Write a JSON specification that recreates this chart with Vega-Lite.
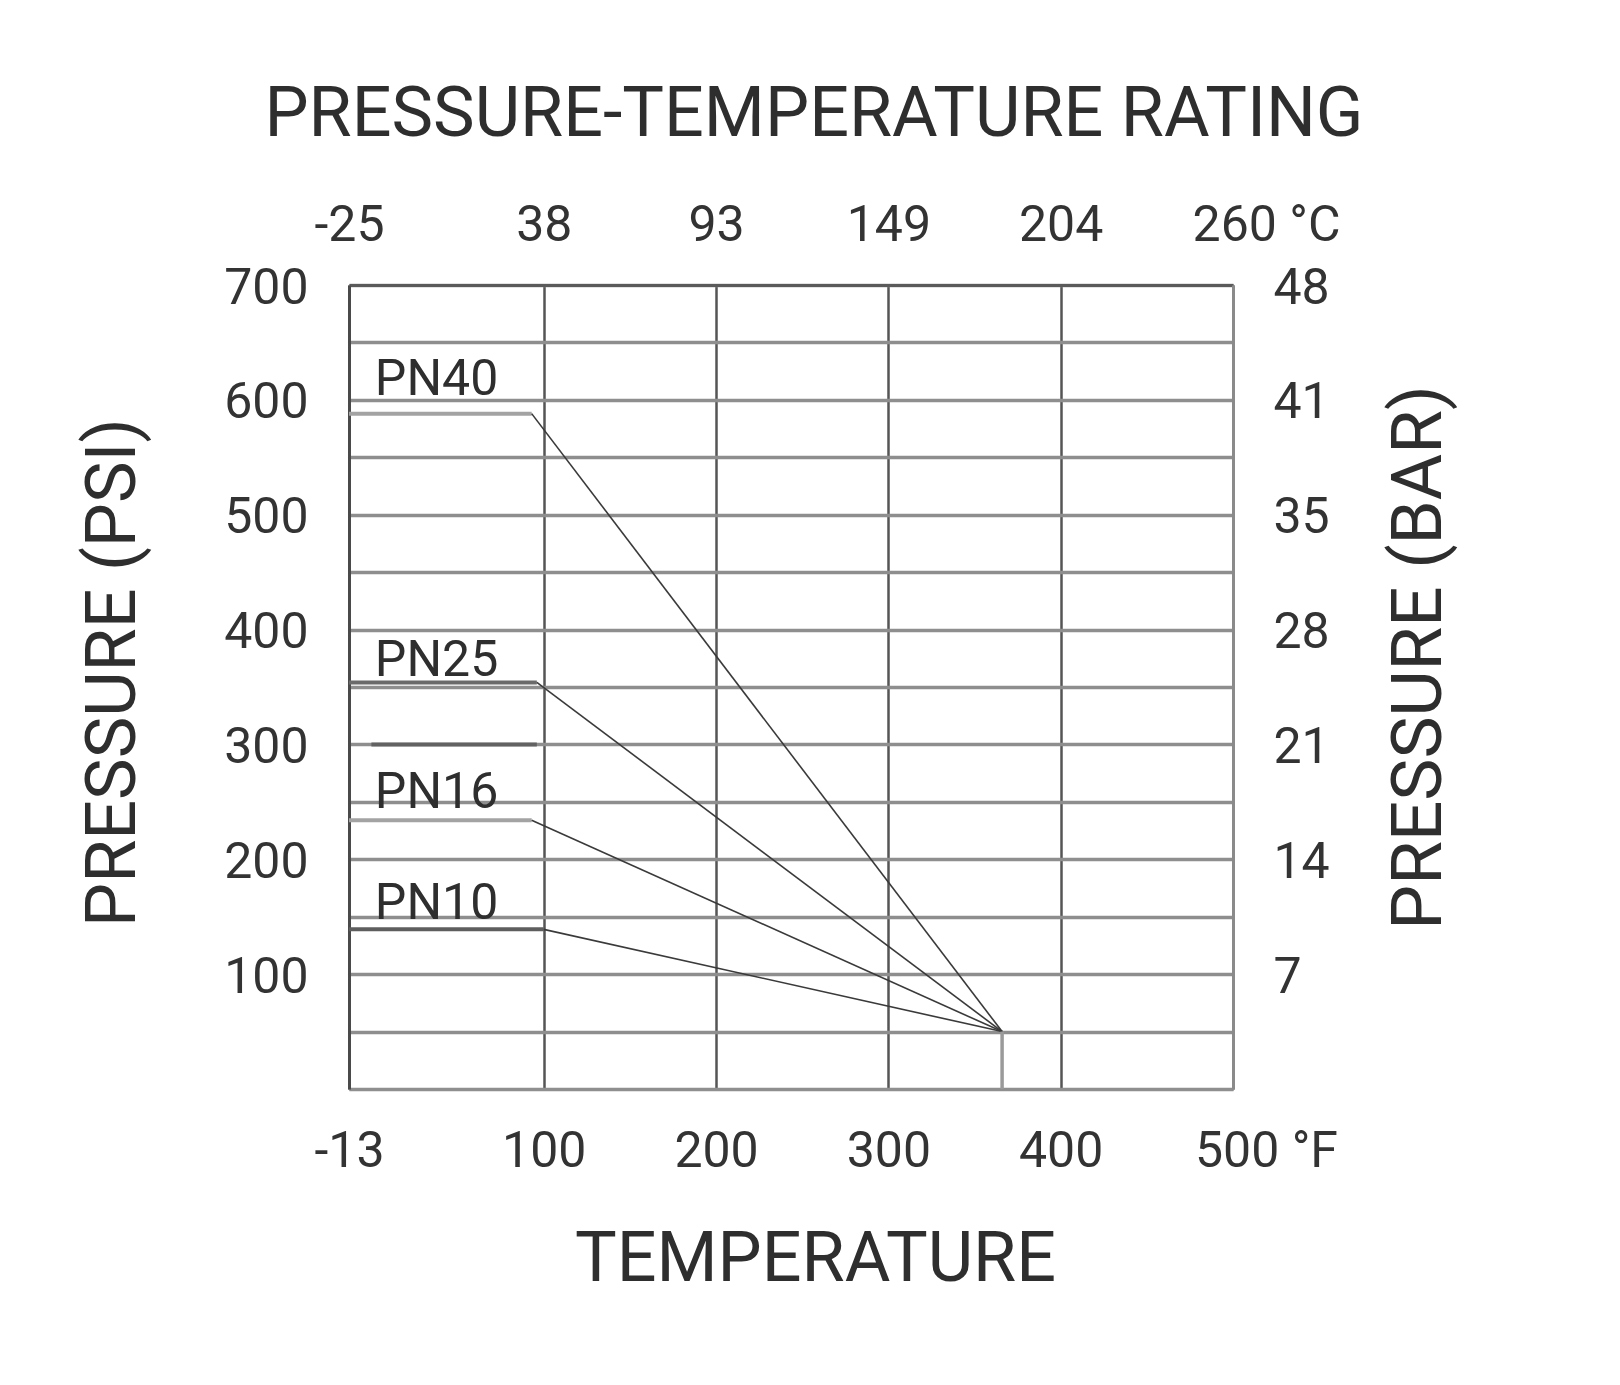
{
  "$schema": "https://vega.github.io/schema/vega-lite/v6.json",
  "width": 884,
  "height": 804,
  "autosize": {"type": "none"},
  "padding": {"left": 349, "top": 285, "right": 387, "bottom": 296},
  "background": "white",
  "config": {"view": {"stroke": null}, "font": "Roboto"},
  "title": {
    "text": "PRESSURE-TEMPERATURE RATING",
    "font": "Roboto",
    "fontSize": 70,
    "fontWeight": "normal",
    "color": "#2e2e2e",
    "anchor": "middle",
    "offset": 49,
    "dx": 23
  },
  "datasets": {
    "plateaus": [
      {"series": "PN40", "F0": -13, "F1": 93, "psi": 588},
      {"series": "PN25", "F0": -13, "F1": 96, "psi": 354},
      {"series": "PN16", "F0": -13, "F1": 93, "psi": 234},
      {"series": "PN10", "F0": -13, "F1": 100, "psi": 139},
      {"series": "300 psi mark", "F0": 0, "F1": 96, "psi": 300}
    ],
    "curves": [
      {"series": "PN40", "F": 93, "psi": 588},
      {"series": "PN40", "F": 366, "psi": 50},
      {"series": "PN25", "F": 96, "psi": 354},
      {"series": "PN25", "F": 366, "psi": 50},
      {"series": "PN16", "F": 93, "psi": 234},
      {"series": "PN16", "F": 366, "psi": 50},
      {"series": "PN10", "F": 100, "psi": 139},
      {"series": "PN10", "F": 366, "psi": 50}
    ],
    "drop": [
      {"F": 366, "psi": 50},
      {"F": 366, "psi": 0}
    ],
    "labels": [
      {"series": "PN40", "F": 2, "psi": 604},
      {"series": "PN25", "F": 2, "psi": 360},
      {"series": "PN16", "F": 2, "psi": 245},
      {"series": "PN10", "F": 2, "psi": 148}
    ]
  },
  "layer": [
    {
      "data": {"name": "plateaus"},
      "mark": {"type": "rule", "strokeWidth": 4},
      "encoding": {
        "x": {
          "field": "F0",
          "type": "quantitative",
          "scale": {"domain": [-13, 500], "nice": false, "zero": false},
          "axis": {
            "orient": "bottom",
            "values": [-13, 100, 200, 300, 400, 500],
            "labelExpr": "datum.value == -13 ? '-13' : datum.value == 500 ? '500 °F' : datum.label",
            "labelFlush": false,
            "labelOverlap": false,
            "labelFont": "Roboto",
            "labelFontSize": 50,
            "labelColor": "#333333",
            "labelPadding": 37,
            "labelOffset": {"condition": {"test": "datum.value == 500", "value": 33}, "value": 0},
            "ticks": false,
            "grid": true,
            "gridColor": "#555555",
            "gridWidth": 2.5,
            "domain": true,
            "domainColor": "#8f8f8f",
            "domainWidth": 3,
            "title": "TEMPERATURE",
            "titleFont": "Roboto",
            "titleFontSize": 70,
            "titleFontWeight": "normal",
            "titleColor": "#2e2e2e",
            "titlePadding": 49,
            "titleX": 466
          }
        },
        "x2": {"field": "F1"},
        "y": {
          "field": "psi",
          "type": "quantitative",
          "scale": {"domain": [0, 700], "nice": false, "zero": true},
          "axis": {
            "orient": "left",
            "values": [0, 50, 100, 150, 200, 250, 300, 350, 400, 450, 500, 550, 600, 650, 700],
            "labelExpr": "datum.value > 0 && datum.value % 100 == 0 ? datum.label : ''",
            "labelOverlap": false,
            "labelFont": "Roboto",
            "labelFontSize": 50,
            "labelColor": "#333333",
            "labelPadding": 41,
            "labelOffset": 3,
            "ticks": false,
            "grid": true,
            "gridColor": "#8e8e8e",
            "gridWidth": 3.5,
            "domain": true,
            "domainColor": "#4a4a4a",
            "domainWidth": 3,
            "title": "PRESSURE (PSI)",
            "titleFont": "Roboto",
            "titleFontSize": 70,
            "titleFontWeight": "normal",
            "titleColor": "#2e2e2e",
            "titlePadding": 74,
            "titleY": 387
          }
        },
        "color": {
          "field": "series",
          "type": "nominal",
          "scale": {
            "domain": ["PN40", "PN25", "PN16", "PN10", "300 psi mark"],
            "range": ["#a3a3a3", "#6a6a6a", "#a3a3a3", "#5e5e5e", "#626262"]
          },
          "legend": null
        }
      }
    },
    {
      "data": {"name": "curves"},
      "mark": {"type": "line", "color": "#3a3a3a", "strokeWidth": 1.6},
      "encoding": {
        "x": {"field": "F", "type": "quantitative", "scale": {"domain": [-13, 500], "nice": false, "zero": false}, "axis": null},
        "y": {"field": "psi", "type": "quantitative", "scale": {"domain": [0, 700], "nice": false}, "axis": null},
        "detail": {"field": "series", "type": "nominal"}
      }
    },
    {
      "data": {"name": "drop"},
      "mark": {"type": "line", "color": "#9a9a9a", "strokeWidth": 3.5},
      "encoding": {
        "x": {"field": "F", "type": "quantitative", "scale": {"domain": [-13, 500], "nice": false, "zero": false}, "axis": null},
        "y": {"field": "psi", "type": "quantitative", "scale": {"domain": [0, 700], "nice": false}, "axis": null}
      }
    },
    {
      "data": {"name": "labels"},
      "mark": {"type": "text", "align": "left", "baseline": "alphabetic", "font": "Roboto", "fontSize": 50, "color": "#2e2e2e"},
      "encoding": {
        "x": {
          "field": "F",
          "type": "quantitative",
          "scale": {"domain": [-13, 500], "nice": false, "zero": false},
          "axis": {
            "orient": "top",
            "values": [-13, 100, 200, 300, 400, 500],
            "labelExpr": "datum.value == -13 ? '-25' : datum.value == 100 ? '38' : datum.value == 200 ? '93' : datum.value == 300 ? '149' : datum.value == 400 ? '204' : '260 °C'",
            "labelFlush": false,
            "labelOverlap": false,
            "labelFont": "Roboto",
            "labelFontSize": 50,
            "labelColor": "#333333",
            "labelPadding": 35,
            "labelOffset": {"condition": {"test": "datum.value == 500", "value": 33}, "value": 0},
            "ticks": false,
            "grid": false,
            "domain": true,
            "domainColor": "#5a5a5a",
            "domainWidth": 3,
            "title": null
          }
        },
        "y": {
          "field": "psi",
          "type": "quantitative",
          "scale": {"domain": [0, 700], "nice": false},
          "axis": {
            "orient": "right",
            "values": [100, 200, 300, 400, 500, 600, 700],
            "labelExpr": "datum.value == 700 ? '48' : datum.value == 600 ? '41' : datum.value == 500 ? '35' : datum.value == 400 ? '28' : datum.value == 300 ? '21' : datum.value == 200 ? '14' : '7'",
            "labelOverlap": false,
            "labelFont": "Roboto",
            "labelFontSize": 50,
            "labelColor": "#333333",
            "labelPadding": 40,
            "labelOffset": 3,
            "labelAlign": "left",
            "ticks": false,
            "grid": false,
            "domain": true,
            "domainColor": "#8a8a8a",
            "domainWidth": 3,
            "title": "PRESSURE (BAR)",
            "titleAngle": 270,
            "titleBaseline": "top",
            "titleFont": "Roboto",
            "titleFontSize": 71,
            "titleFontWeight": "normal",
            "titleColor": "#2e2e2e",
            "titlePadding": 55,
            "titleY": 372
          }
        },
        "text": {"field": "series", "type": "nominal"}
      }
    }
  ],
  "resolve": {"axis": {"x": "independent", "y": "independent"}}
}
